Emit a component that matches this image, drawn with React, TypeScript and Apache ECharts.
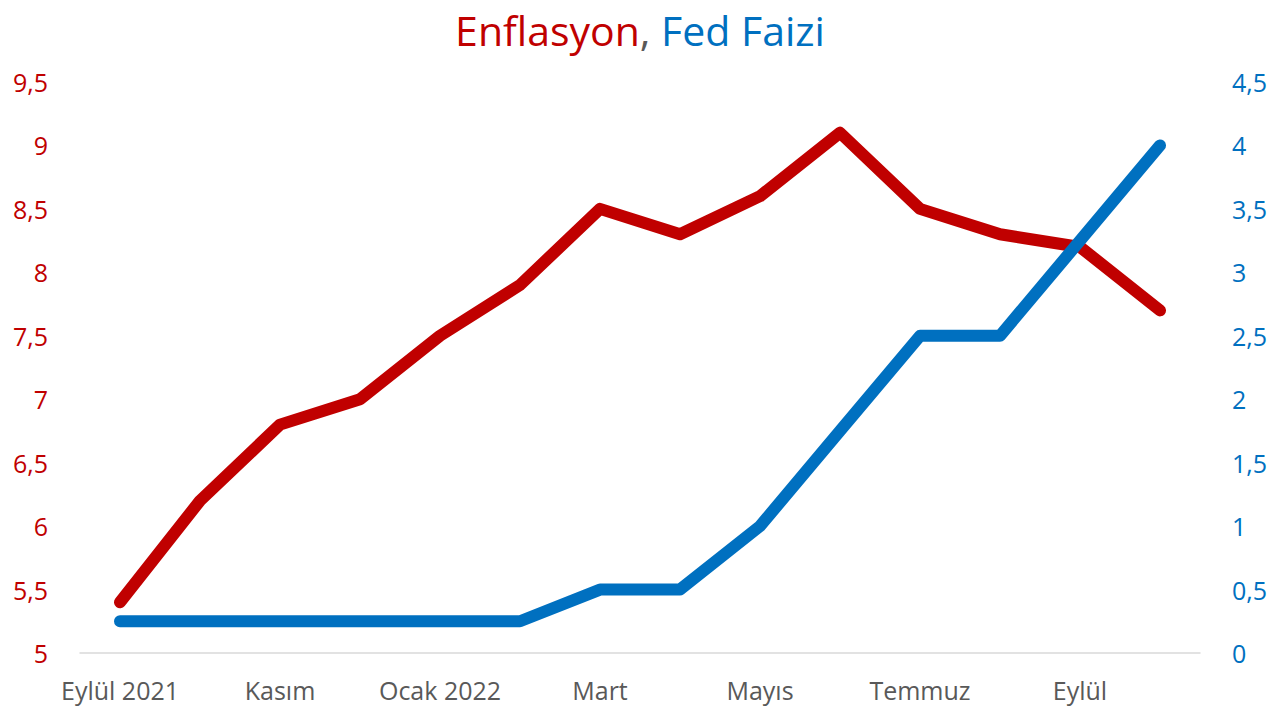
import React, { useEffect, useRef } from 'react';
import * as echarts from 'echarts';

const months = [
  'Eylül 2021', 'Ekim', 'Kasım', 'Aralık', 'Ocak 2022', 'Şubat', 'Mart',
  'Nisan', 'Mayıs', 'Haziran', 'Temmuz', 'Ağustos', 'Eylül', 'Ekim',
];
const enflasyon = [5.4, 6.2, 6.8, 7.0, 7.5, 7.9, 8.5, 8.3, 8.6, 9.1, 8.5, 8.3, 8.2, 7.7];
const fedFaizi = [0.25, 0.25, 0.25, 0.25, 0.25, 0.25, 0.5, 0.5, 1.0, 1.75, 2.5, 2.5, 3.25, 4.0];

const RED = '#C00000';
const BLUE = '#0070C0';
const FONT = 'Open Sans';

const fmt = (v: number) => String(v).replace('.', ',');

const App: React.FC = () => {
  const chartRef = useRef<HTMLDivElement>(null);

  useEffect(() => {
    document.body.style.margin = '0';
    if (!chartRef.current) return;
    const chart = echarts.init(chartRef.current, null, { renderer: 'svg' });

    const titleStyle = { fontSize: 41, fontFamily: FONT, fontWeight: 'normal' };

    const option = {
      animation: false,
      backgroundColor: '#fff',
      textStyle: { fontFamily: FONT },
      title: {
        left: 'center',
        top: 4,
        text: '{a|Enflasyon}{b|, }{c|Fed Faizi}',
        textStyle: {
          fontWeight: 'normal',
          rich: {
            a: { ...titleStyle, color: RED },
            b: { ...titleStyle, color: '#595959' },
            c: { ...titleStyle, color: BLUE },
          },
        },
      },
      grid: { left: 80, right: 80, top: 82, bottom: 67, containLabel: false },
      xAxis: {
        type: 'category',
        data: months,
        boundaryGap: true,
        axisLine: { show: true, lineStyle: { color: '#D9D9D9', width: 1.5 } },
        axisTick: { show: false },
        axisLabel: {
          interval: 1,
          color: '#595959',
          fontSize: 25,
          margin: 24,
          fontFamily: FONT,
        },
        splitLine: { show: false },
      },
      yAxis: [
        {
          type: 'value',
          min: 5,
          max: 9.5,
          interval: 0.5,
          axisLine: { show: false },
          axisTick: { show: false },
          splitLine: { show: false },
          axisLabel: {
            color: RED,
            fontSize: 25,
            margin: 32,
            fontFamily: FONT,
            formatter: fmt,
          },
        },
        {
          type: 'value',
          min: 0,
          max: 4.5,
          interval: 0.5,
          position: 'right',
          axisLine: { show: false },
          axisTick: { show: false },
          splitLine: { show: false },
          axisLabel: {
            color: BLUE,
            fontSize: 25,
            margin: 32,
            fontFamily: FONT,
            formatter: fmt,
          },
        },
      ],
      series: [
        {
          name: 'Enflasyon',
          type: 'line',
          data: enflasyon,
          yAxisIndex: 0,
          showSymbol: false,
          symbol: 'none',
          lineStyle: { color: RED, width: 12, cap: 'round', join: 'round' },
          z: 2,
        },
        {
          name: 'Fed Faizi',
          type: 'line',
          data: fedFaizi,
          yAxisIndex: 1,
          showSymbol: false,
          symbol: 'none',
          lineStyle: { color: BLUE, width: 12, cap: 'round', join: 'round' },
          z: 3,
        },
      ],
    };

    chart.setOption(option);
    return () => {
      chart.dispose();
    };
  }, []);

  return <div ref={chartRef} style={{ width: 1280, height: 720 }} />;
};

export default App;
